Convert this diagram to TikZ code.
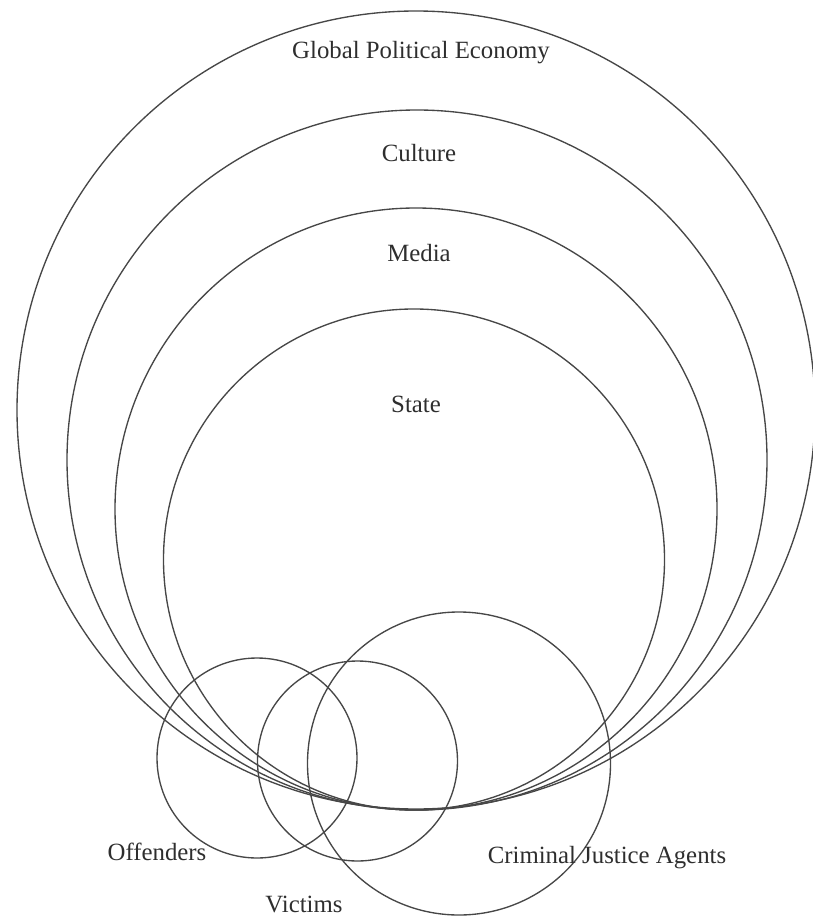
\documentclass[tikz,border=0pt]{standalone}
\usepackage{fontspec}
\setmainfont{Liberation Serif}
\begin{document}
\begin{tikzpicture}[x=1pt,y=-1pt,
  ring/.style={draw=black!72,line width=1.35pt},
  lbl/.style={inner sep=0pt,text=black!82,font=\fontsize{24.8}{26}\selectfont}]
\useasboundingbox (0,0) rectangle (812,917);
% nested spheres
\draw[ring] (416,410) circle[radius=399pt];
\draw[ring] (417,460) circle[radius=350pt];
\draw[ring] (416,509) circle[radius=301pt];
\draw[ring] (414,559.5) circle[radius=250.5pt];
% actors
\draw[ring] (257,758) circle[radius=100pt];
\draw[ring] (357.5,761) circle[radius=100pt];
\draw[ring] (459,763.5) circle[radius=151.5pt];
% labels
\node[lbl] (gpe) at (421,53) {Global Political Economy};
\node[lbl] (cul) at (419,153) {Culture};
\node[lbl] (med) at (419,253) {Media};
\node[lbl] (sta) at (416,404) {State};
\node[lbl] (off) at (157,852) {Offenders};
\node[lbl] (vic) at (304,904) {Victims};
\node[lbl] (cja) at (607,858) {Criminal Justice Agents};
\end{tikzpicture}
\end{document}
